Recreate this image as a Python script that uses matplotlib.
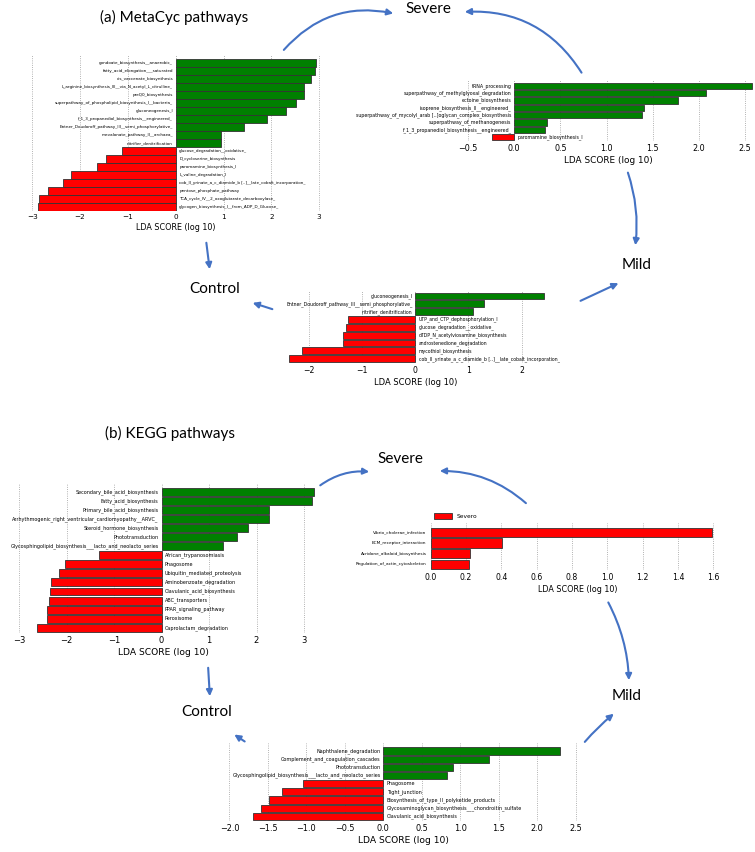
import matplotlib
matplotlib.use("Agg")
import matplotlib.pyplot as plt
from matplotlib.patches import FancyArrowPatch, Patch

GREEN = '#008000'
RED = '#ff0000'
BLUE = '#4472c4'

# ---- (a) MetaCyc: Control vs Severe (top left) ----
meta_cs_names = ['gondoate_biosynthesis__anaerobic_', 'fatty_acid_elongation___saturated',
                 'cis_vaccenate_biosynthesis', 'L_arginine_biosynthesis_III__via_N_acetyl_L_citrulline_',
                 'preQ0_biosynthesis', 'superpathway_of_phospholipid_biosynthesis_I__bacteria_',
                 'gluconeogenesis_I', 'f_1_3_propanediol_biosynthesis__engineered_',
                 'Entner_Doudoroff_pathway_III__semi_phosphorylative_', 'mevalonate_pathway_II__archaea_',
                 'nitrifier_denitrification', 'glucose_degradation__oxidative_',
                 'D_cycloserine_biosynthesis', 'paromamine_biosynthesis_I', 'L_valine_degradation_I',
                 'cob_II_yrinate_a_c_diamide_b [..]__late_cobalt_incorporation_',
                 'pentose_phosphate_pathway', 'TCA_cycle_IV__2_oxoglutarate_decarboxylase_',
                 'glycogen_biosynthesis_I__from_ADP_D_Glucose_']
meta_cs_scores = [2.93, 2.92, 2.84, 2.69, 2.69, 2.51, 2.30, 1.91, 1.42, 0.94, 0.95,
                  -1.13, -1.46, -1.64, -2.18, -2.35, -2.67, -2.85, -2.89]

# ---- (a) MetaCyc: Severe vs Mild (top right) ----
meta_sm_names = ['tRNA_processing', 'superpathway_of_methylglyoxal_degradation', 'ectoine_biosynthesis',
                 'isoprene_biosynthesis_II__engineered_',
                 'superpathway_of_mycolyl_arab [..]oglycan_complex_biosynthesis',
                 'superpathway_of_methanogenesis', 'f_1_3_propanediol_biosynthesis__engineered_',
                 'paromamine_biosynthesis_I']
meta_sm_scores = [2.58, 2.08, 1.77, 1.41, 1.39, 0.36, 0.33, -0.24]

# ---- (a) MetaCyc: Control vs Mild (middle) ----
meta_cm_names = ['gluconeogenesis_I', 'Entner_Doudoroff_pathway_III__semi_phosphorylative_',
                 'nitrifier_denitrification', 'UTP_and_CTP_dephosphorylation_I',
                 'glucose_degradation__oxidative_', 'dTDP_N_acetylviosamine_biosynthesis',
                 'androstenedione_degradation', 'mycothiol_biosynthesis',
                 'cob_II_yrinate_a_c_diamide_b [..]__late_cobalt_incorporation_']
meta_cm_scores = [2.41, 1.29, 1.09, -1.26, -1.30, -1.35, -1.35, -2.13, -2.37]

# ---- (b) KEGG: Control vs Severe (left) ----
kegg_cs_names = ['Secondary_bile_acid_biosynthesis', 'Fatty_acid_biosynthesis',
                 'Primary_bile_acid_biosynthesis', 'Arrhythmogenic_right_ventricular_cardiomyopathy__ARVC_',
                 'Steroid_hormone_biosynthesis', 'Phototransduction',
                 'Glycosphingolipid_biosynthesis___lacto_and_neolacto_series', 'African_trypanosomiasis',
                 'Phagosome', 'Ubiquitin_mediated_proteolysis', 'Aminobenzoate_degradation',
                 'Clavulanic_acid_biosynthesis', 'ABC_transporters', 'PPAR_signaling_pathway',
                 'Peroxisome', 'Caprolactam_degradation']
kegg_cs_scores = [3.22, 3.16, 2.27, 2.27, 1.83, 1.58, 1.30,
                  -1.32, -2.04, -2.15, -2.33, -2.34, -2.36, -2.41, -2.41, -2.62]

# ---- (b) KEGG: Severe only (right) ----
kegg_sv_names = ['Vibrio_cholerae_infection', 'ECM_receptor_interaction',
                 'Acridone_alkaloid_biosynthesis', 'Regulation_of_actin_cytoskeleton']
kegg_sv_scores = [1.594, 0.406, 0.225, 0.215]

# ---- (b) KEGG: Control vs Mild (bottom) ----
kegg_cm_names = ['Naphthalene_degradation', 'Complement_and_coagulation_cascades', 'Phototransduction',
                 'Glycosphingolipid_biosynthesis___lacto_and_neolacto_series', 'Phagosome',
                 'Tight_junction', 'Biosynthesis_of_type_II_polyketide_products',
                 'Glycosaminoglycan_biosynthesis___chondroitin_sulfate', 'Clavulanic_acid_biosynthesis']
kegg_cm_scores = [2.30, 1.38, 0.91, 0.83, -1.05, -1.32, -1.49, -1.59, -1.69]

W, H = 755, 852
fig = plt.figure(figsize=(W / 100, H / 100), dpi=100)


def lda_panel(x0, u, xlim, xticks, top, bot, c_first, c_last, names, scores,
              fs_name=3.4, fs_tick=5.6, fs_lab=6.3, one_class=False):
    # x0: pixel of zero, u: pixels per LDA unit; top/bot: axes edges in pixels
    n = len(names)
    left = x0 + xlim[0] * u
    right = x0 + xlim[1] * u
    ax = fig.add_axes([left / W, 1 - bot / H, (right - left) / W, (bot - top) / H])
    step = (c_last - c_first) / (n - 1)
    ax.set_ylim(-(bot - c_last) / step, (n - 1) + (c_first - top) / step)
    ax.set_xlim(*xlim)
    ys = list(range(n - 1, -1, -1))
    cols = [RED if (one_class or s < 0) else GREEN for s in scores]
    ax.barh(ys, scores, height=0.88, color=cols, edgecolor='#333333', linewidth=0.6, zorder=2)
    for y, s, nm in zip(ys, scores, names):
        if s >= 0:
            ax.annotate(nm, (0, y), xytext=(-2, 0), textcoords='offset points',
                        ha='right', va='center', fontsize=fs_name)
        else:
            ax.annotate(nm, (0, y), xytext=(2.5, 0), textcoords='offset points',
                        ha='left', va='center', fontsize=fs_name)
    ax.set_xticks(xticks)
    ax.set_yticks([])
    ax.tick_params(axis='x', length=0, labelsize=fs_tick, pad=2)
    ax.grid(axis='x', linestyle=':', color='#999999', linewidth=0.6, zorder=0)
    for sp in ax.spines.values():
        sp.set_visible(False)
    ax.set_xlabel('LDA SCORE (log 10)', fontsize=fs_lab, labelpad=2)
    ax.patch.set_alpha(0)
    return ax


lda_panel(175.7, 47.8, (-3.05, 3.05), [-3, -2, -1, 0, 1, 2, 3], 55, 211, 63, 207,
          meta_cs_names, meta_cs_scores, fs_name=3.0, fs_tick=5.2, fs_lab=5.8)
lda_panel(514.2, 92.3, (-0.55, 2.6), [-0.5, 0, 0.5, 1.0, 1.5, 2.0, 2.5], 80, 141, 86, 137,
          meta_sm_names, meta_sm_scores, fs_name=3.4, fs_tick=5.8, fs_lab=6.4)
lda_panel(415.3, 53.2, (-2.5, 2.5), [-2, -1, 0, 1, 2], 291, 363, 296, 358.7,
          meta_cm_names, meta_cm_scores, fs_name=3.3, fs_tick=5.6, fs_lab=6.0)
lda_panel(161.5, 47.5, (-3.2, 3.3), [-3, -2, -1, 0, 1, 2, 3], 483, 633, 492, 627.7,
          kegg_cs_names, kegg_cs_scores, fs_name=3.5, fs_tick=6.0, fs_lab=6.6)
ax_sv = lda_panel(430.7, 176.7, (0, 1.66), [0.0, 0.2, 0.4, 0.6, 0.8, 1.0, 1.2, 1.4, 1.6],
                  522.7, 570, 532.3, 564.3, kegg_sv_names, kegg_sv_scores,
                  fs_name=3.1, fs_tick=5.6, fs_lab=5.8, one_class=True)
for t in ax_sv.texts:
    t.set_ha('right')
    t.set_position((0, t.xy[1]))
    t.xyann = (-3, 0)
ax_sv.legend(handles=[Patch(facecolor=RED, edgecolor='#333333', linewidth=0.6, label='Severo')],
             loc='lower left', bbox_to_anchor=(0.0, 1.0), frameon=False, fontsize=4.2,
             handlelength=3, handleheight=1.2, borderaxespad=0.2)
lda_panel(383.3, 76.9, (-2.08, 2.6), [-2.0, -1.5, -1.0, -0.5, 0.0, 0.5, 1.0, 1.5, 2.0, 2.5],
          743, 821, 751, 816.3, kegg_cm_names, kegg_cm_scores, fs_name=3.5, fs_tick=5.9, fs_lab=6.6)

# ---- overlay: titles, group names, arrows (pixel coordinates) ----
ov = fig.add_axes([0, 0, 1, 1])
ov.set_xlim(0, W)
ov.set_ylim(H, 0)
ov.axis('off')
ov.patch.set_alpha(0)

tfont = dict(family='Lato', fontsize=11, ha='center', va='center')
ov.text(174, 17, '(a) MetaCyc pathways', **tfont)
ov.text(428, 9, 'Severe', **tfont)
ov.text(215, 289, 'Control', **tfont)
ov.text(637, 265, 'Mild', **tfont)
ov.text(170, 433, '(b) KEGG pathways', **tfont)
ov.text(400, 459, 'Severe', **tfont)
ov.text(207, 712, 'Control', **tfont)
ov.text(627, 696, 'Mild', **tfont)

arrows = [((282, 52), (396, 14), -0.3),
          ((583, 75), (462, 12), 0.3),
          ((206, 240), (210, 272), 0.0),
          ((627, 170), (635, 248), -0.12),
          ((275, 310), (250, 302), 0.0),
          ((578, 302), (621, 282), 0.0),
          ((318, 487), (372, 472), -0.2),
          ((528, 505), (437, 471), 0.2),
          ((208, 665), (210, 699), 0.0),
          ((607, 600), (629, 683), -0.12),
          ((247, 743), (232, 733), 0.0),
          ((583, 744), (616, 712), -0.05)]
for p0, p1, rad in arrows:
    ov.add_patch(FancyArrowPatch(p0, p1, connectionstyle=f'arc3,rad={rad}',
                                 arrowstyle='-|>', mutation_scale=9, color=BLUE, lw=1.5))

fig.savefig('out.png', dpi=100)
